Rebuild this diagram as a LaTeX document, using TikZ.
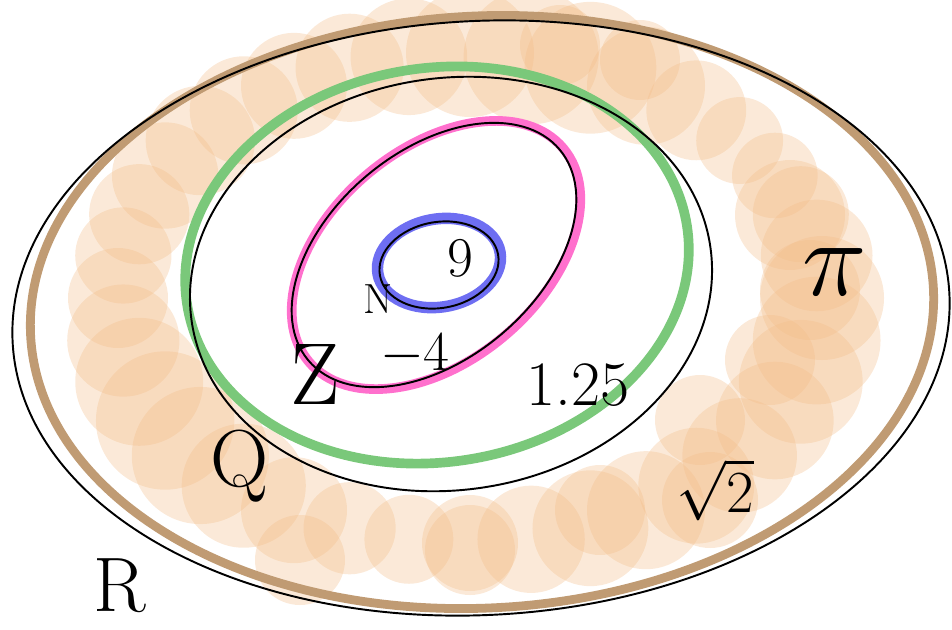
\RequirePackage{fix-cm}
\documentclass[tikz,border=0pt]{standalone}
\usepackage{xcolor}
\usepackage{tikz}
\definecolor{peach}{RGB}{242, 188, 135}
\definecolor{realbrown}{RGB}{192, 155, 115}
\definecolor{ratgreen}{RGB}{122, 200, 122}
\definecolor{intpink}{RGB}{255, 112, 205}
\definecolor{natblue}{RGB}{110, 110, 242}

\tikzset{
  setline/.style={line width=#1},
  inkline/.style={draw=black, line width=1.1pt},
  blob/.style={fill=peach, opacity=0.32},
  hand/.style={inner sep=0pt, font=\fontsize{#1}{#1}\selectfont}
}

\begin{document}
\begin{tikzpicture}[x=0.02cm, y=-0.02cm]
  \useasboundingbox (0,0) rectangle (952,629);

  % the irrational band
  \foreach \a in {0,10,...,350} {
    \pgfmathsetmacro\br{56+8*sin(3*\a)+6*cos(5*\a)}
    \fill[blob, shift={(470,298)}] (\a:352 and 245) circle (\br);
  }
  \foreach \bx/\by/\br in {
    560/45/40, 640/60/40, 790/215/55, 810/290/50, 770/360/45,
    700/420/45, 710/500/48, 600/510/45, 470/550/45, 300/560/45} {
    \fill[blob] (\bx,\by) circle (\br);
  }

  % real numbers
  \draw[draw=realbrown, setline=5pt, shift={(482,312)}, rotate=3]
    (0,0) ellipse (452 and 296);
  \draw[inkline, shift={(481,318)}, rotate=3]
    (0,0) ellipse (469 and 297);

  % rational numbers
  \draw[draw=ratgreen, setline=5.5pt, shift={(437,265)}, rotate=9]
    (0,0) ellipse (253 and 197);
  \draw[inkline, shift={(451,284)}, rotate=8]
    (0,0) ellipse (262 and 206);

  % integers
  \draw[draw=intpink, setline=5.5pt, shift={(436,255)}, rotate=40]
    (0,0) ellipse (166 and 106);
  \draw[inkline, shift={(434,255)}, rotate=40]
    (0,0) ellipse (164 and 104);

  % natural numbers
  \draw[draw=natblue, setline=6.5pt, shift={(439,263)}, rotate=10]
    (0,0) ellipse (62 and 44);
  \draw[inkline, shift={(439,265)}, rotate=10]
    (0,0) ellipse (60 and 43);

  % elements
  \node[hand=32] (nine) at (460,258) {9};
  \node[hand=32] (minusfour) at (415,355) {$-4$};
  \node[hand=36] (onequarter) at (578,385) {1.25};
  \node[hand=62] (piel) at (835,272) {$\pi$};
  \node[hand=34] (sqrttwo) at (715,490) {$\sqrt{2}$};

  % set names
  \node[hand=24] (natlabel) at (378,299) {N};
  \node[hand=50] (intlabel) at (315,374) {Z};
  \node[hand=46] (ratlabel) at (240,466) {Q};
  \node[hand=44] (reallabel) at (120,586) {R};
\end{tikzpicture}
\end{document}
